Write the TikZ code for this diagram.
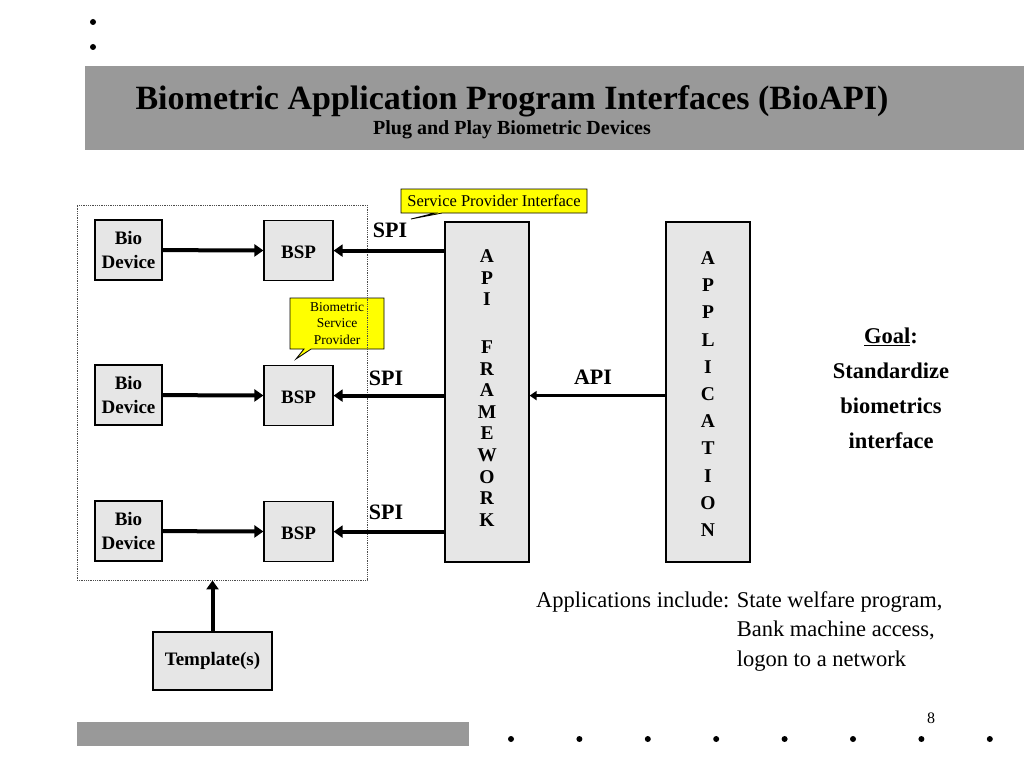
\documentclass[tikz,border=0pt]{standalone}
\usepackage{fontspec}
\setmainfont{Liberation Serif}
\usepackage{tikz}
\usetikzlibrary{positioning}
\usetikzlibrary{arrows.meta,shapes.callouts}
\definecolor{band}{HTML}{999999}
\definecolor{boxgray}{HTML}{E6E6E6}
\definecolor{note}{HTML}{FFFF00}

\begin{document}
\begin{tikzpicture}[
		x=1pt,y=-1pt,
		blk/.style={draw, fill=boxgray, line width=1.2pt, inner sep=0pt, align=center, font=\bfseries\fontsize{19}{24}\selectfont},
		col/.style={draw, fill=boxgray, line width=1.2pt, minimum width=84pt, minimum height=340pt},
		bigarrow/.style={line width=4pt, -{Triangle[length=9pt,width=12pt]}},
		thinarrow/.style={line width=2.6pt, -{Triangle[length=7pt,width=9pt]}},
		spi/.style={font=\bfseries\fontsize{22}{24}\selectfont, inner sep=0pt},
		callout/.style={rectangle callout, draw, fill=note, line width=0.8pt, inner sep=0pt, align=center}
	]
		\useasboundingbox (0,0) rectangle (1024,768);
		% dots and bands
		\fill (93,22) circle (3pt) (93,47) circle (3pt);
		\fill[band] (85,66) rectangle (1024,150);
		\fill[band] (77,722) rectangle (469,746);
		\foreach \i in {0,...,7}
			\fill ({511+68.4*\i},739) circle (3pt);
		\node[font=\fontsize{16}{18}\selectfont] (page) at (931,718) {8};

		\node[font=\bfseries\fontsize{34}{36}\selectfont] (title) at (512,101) {Biometric Application Program Interfaces (BioAPI)};
		\node[font=\bfseries\fontsize{20}{22}\selectfont] (subtitle) at (512,130) {Plug and Play Biometric Devices};

		% devices and providers
		\node[blk, minimum width=67pt, minimum height=60pt] (dev1) at (128.5,250) {Bio\\Device};
		\node[blk, minimum width=67pt, minimum height=60pt] (dev2) at (128.5,395) {Bio\\Device};
		\node[blk, minimum width=67pt, minimum height=60pt] (dev3) at (128.5,531) {Bio\\Device};
		\node[blk, minimum width=69pt, minimum height=60pt, anchor=north] (bsp1) at (298.5,220) {};
		\node[blk, minimum width=69pt, minimum height=60pt, anchor=north] (bsp2) at (298.5,365) {};
		\node[blk, minimum width=69pt, minimum height=60pt, anchor=north] (bsp3) at (298.5,501) {};
		\node[font=\bfseries\fontsize{19}{24}\selectfont, inner sep=0pt] at (298.5,252) {BSP};
		\node[font=\bfseries\fontsize{19}{24}\selectfont, inner sep=0pt] at (298.5,397) {BSP};
		\node[font=\bfseries\fontsize{19}{24}\selectfont, inner sep=0pt] at (298.5,533) {BSP};
		\node[blk, minimum width=119pt, minimum height=58pt] (tpl) at (212.5,661) {Template(s)};

		\node[col] (frame) at (487,392) {};
		\node[col] (app) at (708,392) {};
		\node[font=\bfseries\fontsize{19.5}{21.6}\selectfont, align=center] at (487,388)
			{A\\P\\I\\[26pt]F\\R\\A\\M\\E\\W\\O\\R\\K};
		\node[font=\bfseries\fontsize{19.5}{27.2}\selectfont, align=center] at (708,394)
			{A\\P\\P\\L\\I\\C\\A\\T\\I\\O\\N};

		% notes
		\node[callout, minimum width=186pt, minimum height=24pt, font=\fontsize{16.5}{18}\selectfont,
			callout absolute pointer={(411,219)}] (spinote) at (494,201) {Service Provider Interface};
		\node[callout, minimum width=94pt, minimum height=51pt, font=\fontsize{13.5}{16.5}\selectfont,
			callout absolute pointer={(296,359)}] (bspnote) at (337,323.5) {Biometric\\Service\\Provider};

		\node[draw=gray!60!black, densely dotted, line width=0.8pt, minimum width=290pt, minimum height=375pt] (group) at (222,392.5) {};

		% connectors
		\draw[bigarrow] (dev1) -- (bsp1);
		\draw[bigarrow] (dev2) -- (bsp2);
		\draw[bigarrow] (dev3) -- (bsp3);
		\draw[bigarrow] (frame.west |- bsp1) -- (bsp1);
		\draw[bigarrow] (frame.west |- bsp2) -- (bsp2);
		\draw[bigarrow] (frame.west |- bsp3) -- (bsp3);
		\draw[thinarrow] (app.west |- bsp2) -- (frame.east |- bsp2);
		\draw[bigarrow] (tpl.north) -- (tpl |- group.south);

		\node[spi] at (390,230) {SPI};
		\node[spi] at (386,378) {SPI};
		\node[spi] at (386,512) {SPI};
		\node[spi] at (593,377) {API};

		% goal and applications
		\node[font=\bfseries\fontsize{22.5}{35}\selectfont, align=center] (goal) at (891,388)
			{\underline{Goal}:\\Standardize\\biometrics\\interface};
		\node[font=\fontsize{22.5}{29.5}\selectfont, align=left, anchor=north west, inner sep=0pt] (uses) at (536,591)
			{Applications include: State welfare program,\\
			\hphantom{Applications include: }Bank machine access,\\
			\hphantom{Applications include: }logon to a network};
	\end{tikzpicture}
\end{document}
